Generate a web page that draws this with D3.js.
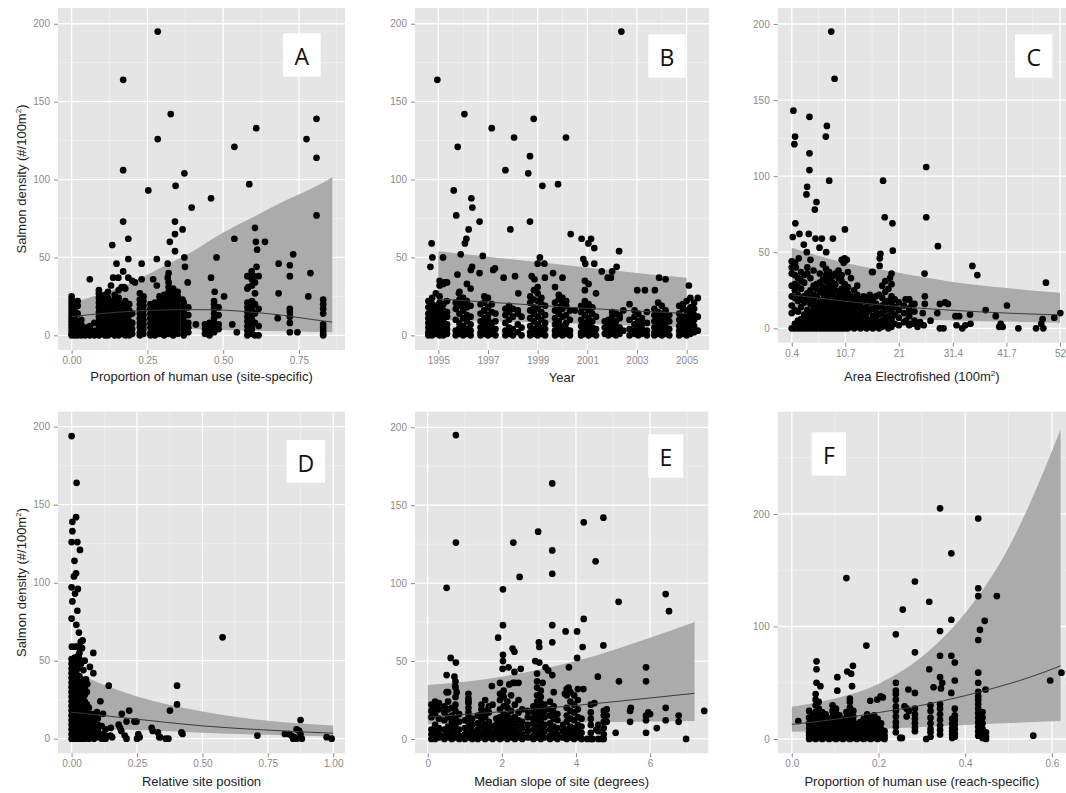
<!DOCTYPE html>
<html>
<head>
<meta charset="utf-8">
<script src="https://cdn.jsdelivr.net/npm/d3@7"></script>
<style>
body { margin: 0; background: #fff; }
svg { display: block; }
</style>
</head>
<body>
<div id="draw"></div>
<script>
// ---------- data ----------
// each panel: scattered points [x, y], stacked columns [x, [y...]], and the fitted curve + band

// A: proportion of human use (site-specific)
var aPoints = [[0.284,195],[0.17,164],[0.327,142],[0.284,126],[0.17,106],[0.372,104],[0.253,93],[0.343,96],[0.396,82],[0.46,88],[0.537,121],[0.586,97],[0.609,133],[0.775,126],[0.808,139],[0.808,114],[0.808,77],[0.17,73],[0.341,73],[0.341,65],[0.366,68],[0.324,60],[0.134,58],[0.187,62],[0.537,62],[0.608,60],[0.638,60],[0.605,69],[0.612,55],[0.341,54],[0.281,49],[0.187,49],[0.478,50],[0.148,46],[0.231,46],[0.17,41],[0.731,52],[0.683,46],[0.72,45],[0.72,38],[0.788,40],[0.372,50],[0.374,44],[0.317,46],[0.137,37],[0.154,37],[0.06,36],[0.187,37],[0.231,36],[0.209,34],[0.281,32],[0.317,37],[0.383,34],[0.269,36],[0.46,37],[0.683,27],[0.781,25],[0.173,31],[0.594,41],[0.61,44],[0.6,38],[0.583,31],[0.472,28],[0.503,25],[0.366,23]];
var aStacks = [[0.000,[0,1,3,5,7,9,11,13,15,17,19,21,23,25]],[0.010,[0,2,4,6,8,12,16,20]],[0.020,[0,1,3,6,9,14,19,22]],[0.032,[0,2,4,7,10]],[0.045,[0,1,3,5]],[0.060,[0,2,4,6]],[0.075,[0,1,3,8]],[0.090,[0,3,6,9,12,15,18,21,24,27,29]],[0.100,[1,4,7,10,13,16,19,22,25]],[0.110,[0,2,5,8,11,14,17,20,23,26]],[0.120,[0,3,6,9,12,15,18,21,24,28]],[0.130,[1,4,7,10,13,16,19,22,32]],[0.142,[0,2,5,8,11,14,17,20,23,26]],[0.155,[0,3,6,9,12,15,18,21,24,29]],[0.165,[1,4,7,11,14,17,20,31]],[0.177,[0,2,5,8,12,16,19,22,30]],[0.190,[0,3,6,9,13,16,20]],[0.200,[1,4,8,14,35]],[0.225,[0,2,5,8,11,14,17,20,23,27]],[0.237,[1,4,7,10,13,16,19,22,25]],[0.260,[0,2,5,8,11,14,17,20]],[0.275,[0,3,6,9,12,15,18,21]],[0.290,[1,4,7,10,13,16,19,22,25]],[0.305,[0,2,5,8,11,14,17,20,23,26]],[0.320,[1,4,7,10,13,16,19,22,25,28,31,34,40]],[0.335,[0,3,6,9,12,15,18,21,24,27,30]],[0.350,[1,4,7,10,13,16,19,22,25,28]],[0.370,[0,3,6,9,12,15,18,21]],[0.385,[2,5,8,13,18]],[0.410,[7]],[0.440,[1,4,7]],[0.455,[0,2,5,8]],[0.470,[2,5,8,11,14,17,20,22]],[0.485,[4,7,13,18]],[0.530,[7]],[0.545,[2]],[0.580,[0,3,6,9,12,15,18,21,30,38]],[0.595,[1,4,7,10,13,16,19,22,32,36]],[0.605,[0,8,14,20,27,34]],[0.617,[0,6,17,38]],[0.680,[11]],[0.720,[2,8,12,15,17]],[0.745,[2]],[0.830,[0,1,3,5,7,14,17,20,23]]];
var aCurveX = [0, 0.1, 0.2, 0.3, 0.4, 0.5, 0.6, 0.7, 0.8, 0.86];
var aFit    = [12, 14, 15.5, 16.3, 16.5, 16.2, 14.8, 12.8, 10, 8.5];
var aLow    = [6, 5.5, 5, 4.5, 4, 3.5, 3, 2.6, 2.2, 2];
var aHigh   = [20.5, 27, 34, 44, 54, 66, 76, 86, 95, 101.5];

// B: year
var bPoints = [[1994.96,164],[2002.37,195],[1996.05,142],[1997.15,133],[1998.05,127],[1998.84,139],[2000.14,127],[1995.78,121],[1998.69,115],[1997.7,106],[1998.62,104],[1995.62,93],[1999.19,96],[1999.82,97],[1996.33,88],[1996.37,82],[1995.72,77],[1996.66,73],[1998.69,73],[1996.22,68],[1997.9,68],[2000.33,65],[1996.13,62],[1996.07,59],[1994.73,59],[1994.76,50],[1994.68,44],[1995.19,50],[1995.9,52],[1996.79,51],[1999.09,50],[2000.77,62],[2001.15,62],[2001.04,59],[2001.28,56],[2002.28,54],[2000.84,49],[2000.92,46],[2001.28,46],[1999.0,46],[1999.27,46],[2001.58,41],[2001.82,37],[2001.95,37],[2002.18,44],[2002.0,41],[2003.89,37],[2004.15,36],[1996.36,44],[1996.31,42],[1996.66,40],[1997.28,43],[1997.21,42],[1997.63,37],[1998.09,38],[1998.76,38],[1998.87,36],[1999.29,37],[1999.62,40],[2000.0,37],[1995.77,39],[1995.83,27],[1999.7,31],[1995.13,33],[1995.26,34],[2003.01,29],[2003.32,29],[2003.72,29],[2005.09,32],[1998.22,27]];
var bStacks = [[1994.6,[0,2,5,8,11,14,18,22]],[1994.75,[0,1,4,7,10,13,16,20,24]],[1994.9,[1,3,6,9,12,15,19,27]],[1995.05,[0,2,5,8,11,14,17,21,25,32,35]],[1995.2,[0,3,6,10,13,16,20,33]],[1995.35,[1,4,7,12,15,22,34]],[1995.7,[0,3,10,17,21]],[1995.85,[1,5,8,14,19,23,28]],[1996.0,[0,2,6,11,16,20,24]],[1996.15,[1,4,9,13,18,22,33]],[1996.3,[0,3,7,12,19,30]],[1996.7,[0,2,5,9,14,20]],[1996.85,[1,4,7,11,16,21,25]],[1997.0,[0,3,6,10,13,18,24]],[1997.15,[1,5,8,15,20]],[1997.3,[0,4,9,14]],[1997.7,[0,3,8,13,17]],[1997.85,[1,5,10,15,19]],[1998.0,[0,4,12,17]],[1998.2,[2,7,14,16]],[1998.35,[0,5,12]],[1998.7,[0,2,6,11,16,21,25]],[1998.85,[1,4,9,14,18,23,29]],[1999.0,[0,3,7,12,17,22,27,31]],[1999.15,[1,5,10,15,20,24]],[1999.3,[0,4,8,13,19]],[1999.7,[0,3,7,11,16,21]],[1999.85,[1,5,9,14,18,23,26]],[2000.0,[0,2,6,12,17,20,24]],[2000.15,[1,4,8,13,19,22]],[2000.3,[0,3,10,16]],[2000.5,[16]],[2000.75,[0,2,6,10,15,19]],[2000.9,[1,4,8,13,18,22,29,35]],[2001.05,[0,3,7,11,16,20,33]],[2001.2,[1,5,9,14,18]],[2001.35,[0,4,12,27]],[2001.7,[1,5,9]],[2001.85,[0,3,7,10]],[2002.0,[1,4,8,12,15]],[2002.15,[0,3,6,9,14]],[2002.3,[1,5,11,13]],[2002.45,[3,16]],[2002.7,[0,4,10,20]],[2002.9,[1,3,7,12,16]],[2003.05,[0,2,5,9,14]],[2003.2,[1,4,7,11]],[2003.4,[0,3,8,15]],[2003.7,[0,2,5,9,13,17]],[2003.85,[1,4,7,11,15,21]],[2004.0,[0,3,6,10,14,19]],[2004.15,[1,5,8,12,16]],[2004.3,[0,4,9,13]],[2004.7,[0,3,6,10,14,19]],[2004.85,[1,4,8,12,17,20]],[2005.0,[0,2,5,9,13,16,22]],[2005.15,[1,4,7,11,15,18,24]],[2005.3,[2,6,10,13,17,21]],[2005.45,[3,12,24]]];
var bCurveX = [1995, 1997, 1999, 2001, 2003, 2005];
var bFit    = [23.3, 21.3, 19.3, 17.3, 15.6, 14.1];
var bLow    = [10, 9.2, 8.4, 7.3, 6.2, 5.2];
var bHigh   = [54, 50.5, 47, 43.5, 40, 37];

// C: area electrofished
var cPoints = [[8.0,195],[8.64,164],[0.72,143],[3.81,139],[1.04,126],[0.91,121],[7.16,133],[6.96,126],[3.81,115],[3.81,104],[7.61,97],[17.97,97],[26.27,106],[26.27,73],[3.36,93],[3.23,88],[5.16,83],[4.84,78],[1.11,69],[18.29,73],[19.77,69],[0.59,60],[1.88,62],[3.68,62],[4.97,59],[6.19,59],[8.32,59],[10.63,65],[5.74,53],[7.03,50],[2.72,55],[3.3,50],[4.0,45],[1.75,46],[17.46,49],[17.33,46],[19.83,51],[28.52,54],[35.15,41],[36.1,35],[49.3,30],[25.95,36],[17.3,41],[19.6,36],[15.85,37],[19.3,33],[10.57,46],[11.0,45],[10.4,43],[1.04,43],[1.2,40],[52.07,10],[50.9,7],[48.66,6],[48.4,3],[47.4,0],[48.8,0],[44.0,0],[41.8,15],[40.6,3],[41.0,1],[40.3,1],[39.65,8],[37.7,12],[34.7,9],[34.8,3],[32.6,8],[31.9,8],[33.2,0],[33.8,2],[32.1,2],[30.45,16],[29.9,17],[28.9,16],[28.4,10],[28.9,0],[29.6,0],[27.1,5],[26.0,16],[26.0,21],[25.6,10],[25.1,4],[25.8,2],[23.5,16],[22.3,19],[23.0,10],[22.4,5],[23.3,3],[23.9,3],[24.6,1]];
var cStacks = [[0.4,[0,10,15,21,28,36,40,44]],[1.0,[0,3,12,20,25,29,35,41]],[1.6,[0,1,5,11,18,22,27,33]],[2.2,[0,2,6,14,20,26,31,37]],[2.8,[0,1,4,9,17,21,30,35]],[3.4,[0,2,5,8,12,19,23,36,40]],[4.0,[0,1,3,6,10,16,20,25,33]],[4.6,[0,2,4,8,13,18,22,28,38]],[5.2,[0,1,3,7,11,15,21,26,29]],[5.8,[0,2,5,9,14,17,24,30,36]],[6.4,[0,1,4,8,12,16,19,23,27,32,42]],[7.0,[0,2,5,7,10,14,18,22,26,31,35,39]],[7.6,[0,1,3,6,9,13,17,21,24,28,33,37]],[8.2,[0,2,4,8,11,15,19,23,27,30,34]],[8.8,[0,1,5,9,12,16,20,25,29,36]],[9.4,[0,3,6,10,13,17,21,24,33,38]],[10.0,[0,2,5,8,11,15,18,22,26,31,35,45]],[10.6,[0,1,4,7,10,14,17,20,24,29,44]],[11.2,[0,3,6,9,12,16,19,23,27,37]],[11.8,[1,4,7,11,14,18,21,33]],[12.4,[0,3,6,10,13,17,20,25]],[13.0,[1,5,8,12,16,22,28]],[13.6,[0,3,7,11,15,19]],[14.2,[1,4,9,13,18,21]],[14.8,[0,2,6,10,14,20]],[15.4,[1,5,12,17,22]],[16.0,[0,3,8,13,19,37]],[16.6,[1,6,11,16,21]],[17.2,[0,4,9,14,22]],[17.8,[1,5,10,15,20,28]],[18.4,[2,7,12,17,24,31]],[19.0,[0,4,8,13,18,26]],[19.6,[1,6,11,16,21,29]],[20.2,[3,9,14,19]],[21.0,[2,7,12,17]],[22.0,[4,10,15]],[23.0,[2,8,13,19]],[24.0,[5,11,16]]];
var cCurveX = [0.4, 10.7, 21, 31.4, 41.7, 52];
var cFit    = [22, 17.8, 14.3, 11.8, 10, 8.8];
var cLow    = [9.5, 7.8, 6.3, 5.2, 4.4, 3.7];
var cHigh   = [53, 43, 36.5, 30.5, 26.5, 23.4];

// D: relative site position
var dPoints = [[0.0,194],[0.019,164],[0.017,142],[0.003,139],[0.003,133],[0.0,126],[0.022,126],[0.032,121],[0.011,114],[0.017,106],[0.009,104],[0.024,96],[0.0,97],[0.013,93],[0.003,88],[0.022,82],[0.0,77],[0.018,73],[0.028,68],[0.042,63],[0.023,59],[0.001,59],[0.035,62],[0.03,55],[0.577,65],[0.083,55],[0.07,46],[0.083,42],[0.142,34],[0.403,34],[0.403,22],[0.376,18],[0.11,24],[0.097,17],[0.089,16],[0.12,16],[0.192,16],[0.22,18],[0.21,11],[0.24,11],[0.248,11],[0.18,9],[0.185,7],[0.19,5],[0.15,7],[0.148,2],[0.155,1],[0.1,5],[0.095,2],[0.112,1],[0.306,7],[0.31,5],[0.33,4],[0.335,1],[0.36,0],[0.42,4],[0.424,3],[0.37,0],[0.338,1],[0.25,0],[0.26,1],[0.255,3],[0.203,2],[0.21,0],[0.13,0],[0.71,2],[0.815,3],[0.83,3],[0.84,2],[0.85,1],[0.86,0],[0.847,0],[0.875,12],[0.86,6],[0.87,5],[0.875,3],[0.88,0],[0.975,1],[0.994,0],[0.055,38],[0.06,35],[0.05,33],[0.045,44],[0.05,50],[0.04,58],[0.028,52],[0.015,59],[0.033,48]];
var dStacks = [[0.000,[0,3,6,9,12,15,18,21,24,27,30,33,36,39,42,45,48,51]],[0.006,[1,4,7,10,13,16,19,22,25,28,31,34,37,40,43,46,50]],[0.012,[0,2,5,8,11,14,17,20,23,26,29,32,35,38,41,44,47,52]],[0.018,[1,3,6,9,12,15,18,21,24,27,30,33,36,39,42,49]],[0.024,[0,2,5,8,11,14,17,20,23,26,29,32,35,38,45,53]],[0.030,[1,4,7,10,13,16,19,22,25,28,31,35,40,50]],[0.036,[0,2,5,8,11,14,17,20,23,27,31,38,48]],[0.042,[1,3,6,9,12,15,18,22,26,30,36]],[0.050,[0,2,5,8,11,14,19,24,28]],[0.058,[1,4,7,10,13,17,22,30]],[0.066,[0,3,6,9,14,20]],[0.074,[1,4,8,12,16]],[0.085,[0,3,7,11,14]],[0.100,[1,5,9,13]],[0.115,[0,3,8]],[0.130,[2,6]]];
var dCurveX = [0, 0.25, 0.5, 0.75, 1];
var dFit    = [17, 12.5, 8.2, 5.5, 3.5];
var dLow    = [7, 5.5, 3.8, 2.5, 1.4];
var dHigh   = [43, 27, 17.5, 11.5, 8.5];

// E: median slope of site
var ePoints = [[0.76,195],[0.76,126],[0.51,97],[3.36,164],[2.98,133],[3.36,121],[3.36,106],[2.31,126],[2.48,104],[2.03,96],[4.21,139],[4.74,142],[4.53,114],[5.15,88],[6.42,93],[6.51,82],[4.21,77],[3.36,73],[2.03,73],[3.72,69],[4.03,69],[1.9,65],[3.0,62],[3.36,62],[3.01,59],[4.18,59],[4.74,60],[2.29,58],[2.34,56],[0.62,52],[0.76,49],[0.51,41],[0.72,40],[2.03,54],[2.03,50],[2.9,50],[3.01,49],[2.18,46],[2.02,45],[3.18,46],[3.25,44],[3.36,41],[3.81,46],[4.03,52],[4.59,40],[5.89,46],[5.89,37],[5.16,37],[2.34,43],[2.51,45],[2.45,36],[2.3,36],[2.2,35],[1.73,34],[0.74,34],[0.78,30],[0.51,30],[6.42,20],[6.42,12],[6.77,15],[6.77,11],[7.46,18],[6.97,0],[6.18,7],[5.89,4],[5.89,15],[5.95,17],[6.0,16],[5.89,12],[5.46,18],[5.48,20],[5.46,11],[5.07,4],[4.83,11],[4.83,15],[4.83,19],[4.5,23],[4.55,6],[4.3,0],[4.45,0],[4.7,0],[4.2,32],[3.8,33],[3.7,29],[3.1,36],[2.95,42],[1.1,24]];
var eStacks = [[0.10,[0,3,6,14,18,22]],[0.20,[0,2,5,9,16,20,24]],[0.30,[1,4,7,13,19,23]],[0.45,[0,2,6,12,17,21]],[0.55,[1,4,8,14,19,24,30]],[0.65,[0,3,7,11,15,20]],[0.75,[1,5,9,13,18,22,27,33,37]],[0.85,[0,2,6,11,16]],[1.00,[0,3,7,12]],[1.10,[1,4,8,11,14,17,20,23,26,29]],[1.20,[0,2,5,9,13]],[1.35,[0,3,6,10,15]],[1.45,[1,4,8,12,16,19,22]],[1.55,[0,2,5,9,14,18,25]],[1.65,[1,3,7,11,17,21]],[1.75,[0,4,8,22]],[1.85,[1,5,9,13]],[1.95,[0,2,6,10,14,19,25,29,36]],[2.05,[1,4,8,12,16,21,27,31]],[2.15,[0,3,7,11,15,20,24]],[2.25,[1,5,9,13,18,28]],[2.35,[0,2,6,10,14,22,36]],[2.45,[1,4,8,12,17,25]],[2.55,[0,3,7,11,19]],[2.70,[1,5,9,14,18]],[2.85,[0,2,6,10,13,17,21]],[2.95,[1,4,8,12,16,20,24,28,33,37]],[3.05,[0,3,7,11,15,19,23,27,31]],[3.15,[1,5,9,14,18,22]],[3.30,[0,2,6,10,15,19,24]],[3.40,[1,4,8,13,17,21,30]],[3.50,[0,3,7,12,16]],[3.65,[1,5,9]],[3.75,[0,2,6,11,15,20,28,32]],[3.85,[1,4,8,13,18,24,30]],[3.95,[0,3,7,12,17,22,28]],[4.05,[1,5,9,14,19,25,32]],[4.15,[0,4,8,13]],[4.40,[0,4,9,13,17,22]],[4.60,[0,5,9]],[4.75,[0,3,7,11,15,18]]];
var eCurveX = [0, 2, 4, 6, 7.2];
var eFit    = [14, 17.5, 21.5, 26.3, 29.3];
var eLow    = [9.5, 10, 10.6, 11.2, 11.5];
var eHigh   = [34.6, 40, 50, 65, 75];

// F: proportion of human use (reach-specific)
var fPoints = [[0.342,205],[0.43,196],[0.368,165],[0.126,143],[0.284,140],[0.43,134],[0.43,127],[0.473,127],[0.317,122],[0.256,115],[0.368,106],[0.445,105],[0.434,97],[0.342,96],[0.24,93],[0.43,88],[0.172,83],[0.284,77],[0.342,74],[0.368,74],[0.376,68],[0.057,69],[0.057,62],[0.141,65],[0.137,58],[0.128,60],[0.105,55],[0.317,62],[0.43,59],[0.622,59],[0.596,52],[0.376,52],[0.24,50],[0.342,55],[0.347,50],[0.057,50],[0.066,47],[0.139,47],[0.43,50],[0.447,44],[0.344,45],[0.105,43],[0.24,43],[0.269,44],[0.284,41],[0.327,46],[0.368,41],[0.43,42],[0.181,34],[0.197,35],[0.205,38],[0.21,37],[0.557,3],[0.015,16],[0.254,1],[0.27,25],[0.26,29]];
var fStacks = [[0.040,[0,3,6,10,14,19,25]],[0.048,[1,4,8,12,17,22]],[0.055,[0,2,5,9,13,18,24,30,35,40]],[0.062,[1,4,7,11,16,21,27,33]],[0.070,[0,3,6,10,14,19,24]],[0.078,[1,4,8,12,17,22]],[0.086,[0,2,5,9,13,18]],[0.094,[1,4,7,11,15,20,25,30]],[0.102,[0,3,6,10,14,18,23,27]],[0.110,[1,4,8,12,16,21]],[0.118,[0,2,5,9,13,17]],[0.126,[1,4,7,11,15,19,24]],[0.134,[0,3,6,10,14,18,22,28,33,36]],[0.142,[1,4,8,12,16,20,25]],[0.150,[0,2,5,9,13]],[0.158,[1,4,7,11,15]],[0.166,[0,3,6,10,14,18]],[0.174,[1,4,8,12,17,22]],[0.182,[0,2,5,9,14,19]],[0.190,[1,4,7,11,16,21]],[0.198,[0,3,6,10,13,18]],[0.206,[1,5,9,14]],[0.214,[0,3,7]],[0.240,[6,11,15,20,25,29,35,40]],[0.250,[1]],[0.265,[20,27]],[0.284,[7,10,14,18,22,27]],[0.310,[0]],[0.320,[2,6,9,14,19,25,30]],[0.342,[4,8,12,17,22,27,31]],[0.370,[1,4,7,10,14,18]],[0.376,[2,5,9,13,17,21,27]],[0.430,[3,7,11,15,19,23,27,31,35,38]],[0.440,[1,5,9,14,19,24]],[0.448,[0,2,6]]];
var fCurveX = [0, 0.1, 0.2, 0.3, 0.4, 0.45, 0.5, 0.55, 0.62];
var fFit    = [13, 17.5, 23.5, 30, 38.5, 43.5, 49, 55, 65];
var fLow    = [6.5, 7.6, 8.8, 10.6, 12.5, 13.3, 14.2, 15, 16];
var fHigh   = [28.7, 36, 49, 73, 112, 138, 170, 210, 275];

// axis ticks
var yTicks = [0, 50, 100, 150, 200];
var yTicksF = [0, 100, 200];
var aTicks = [0, 0.25, 0.5, 0.75], aLabels = ['0.00', '0.25', '0.50', '0.75'];
var bTicks = [1995, 1997, 1999, 2001, 2003, 2005];
var cTicks = [0.4, 10.7, 21, 31.4, 41.7, 52];
var dTicks = [0, 0.25, 0.5, 0.75, 1], dLabels = ['0.00', '0.25', '0.50', '0.75', '1.00'];
var eTicks = [0, 2, 4, 6];
var fTicks = [0, 0.2, 0.4, 0.6], fLabels = ['0.0', '0.2', '0.4', '0.6'];

// ---------- layout ----------
var panels = [
	{ id: 'A', pts: aPoints, stacks: aStacks, cx: aCurveX, fit: aFit, lo: aLow, hi: aHigh,
		left: 58, right: 345, top: 8, bottom: 350, xDom: [-0.045, 0.902], yDom: [-9.4, 210.1],
		xTicks: aTicks, xLabels: aLabels, yTicks: yTicks, title: ['Proportion of human use (site-specific)'], titleY: 381,
		yTitle: true, box: [283, 33.3, 37.7, 43.4] },
	{ id: 'B', pts: bPoints, stacks: bStacks, cx: bCurveX, fit: bFit, lo: bLow, hi: bHigh,
		left: 415, right: 709, top: 8, bottom: 350, xDom: [1994.06, 2005.9], yDom: [-9.4, 210.1],
		xTicks: bTicks, xLabels: bTicks.map(String), yTicks: yTicks, title: ['Year'], titleY: 382,
		yTitle: false, box: [648.3, 34.3, 37.4, 43.4] },
	{ id: 'C', pts: cPoints, stacks: cStacks, cx: cCurveX, fit: cFit, lo: cLow, hi: cHigh,
		left: 777.7, right: 1066, top: 8, bottom: 342.7, xDom: [-2.3, 53.16], yDom: [-9.46, 210.5],
		xTicks: cTicks, xLabels: cTicks.map(String), yTicks: yTicks, title: ['Area Electrofished (100m', '2', ')'], titleY: 381,
		yTitle: false, box: [1015, 34.3, 37.3, 43.4] },
	{ id: 'D', pts: dPoints, stacks: dStacks, cx: dCurveX, fit: dFit, lo: dLow, hi: dHigh,
		left: 58, right: 345, top: 411.7, bottom: 753.3, xDom: [-0.052, 1.045], yDom: [-9.36, 209.6],
		xTicks: dTicks, xLabels: dLabels, yTicks: yTicks, title: ['Relative site position'], titleY: 786,
		yTitle: true, box: [286.7, 440, 38.3, 42.7] },
	{ id: 'E', pts: ePoints, stacks: eStacks, cx: eCurveX, fit: eFit, lo: eLow, hi: eHigh,
		left: 415, right: 708.3, top: 411.7, bottom: 753.3, xDom: [-0.343, 7.57], yDom: [-9.2, 210],
		xTicks: eTicks, xLabels: eTicks.map(String), yTicks: yTicks, title: ['Median slope of site (degrees)'], titleY: 786,
		yTitle: false, box: [648.3, 434.3, 35, 43.4] },
	{ id: 'F', pts: fPoints, stacks: fStacks, cx: fCurveX, fit: fFit, lo: fLow, hi: fHigh,
		left: 777.7, right: 1066, top: 411.7, bottom: 753.3, xDom: [-0.0325, 0.6325], yDom: [-12.7, 290.9],
		xTicks: fTicks, xLabels: fLabels, yTicks: yTicksF, title: ['Proportion of human use (reach-specific)'], titleY: 786,
		yTitle: false, box: [811.7, 432.3, 34.3, 43.4] }
];

var svg = d3.select('#draw').append('svg')
	.attr('width', 1066)
	.attr('height', 793)
	.style('font-family', '"Liberation Sans", Arial, sans-serif');

// minor breaks half way between majors, kept inside the domain
function minors(ticks, dom) {
	var step = ticks[1] - ticks[0], out = [];
	for (var i = -1; i < ticks.length; i++) {
		var v = ticks[0] + (i + 0.5) * step;
		if (v > dom[0] && v < dom[1]) out.push(v);
	}
	return out;
}

panels.forEach(function (p) {
	var x = d3.scaleLinear().domain(p.xDom).range([p.left, p.right]);
	var y = d3.scaleLinear().domain(p.yDom).range([p.bottom, p.top]);
	var g = svg.append('g');

	svg.append('clipPath').attr('id', 'clip' + p.id)
		.append('rect').attr('x', p.left).attr('y', p.top)
		.attr('width', p.right - p.left).attr('height', p.bottom - p.top);

	g.append('rect').attr('x', p.left).attr('y', p.top)
		.attr('width', p.right - p.left).attr('height', p.bottom - p.top)
		.style('fill', '#e5e5e5');

	var grid = g.append('g');
	minors(p.xTicks, p.xDom).forEach(function (v) {
		grid.append('line').attr('x1', x(v)).attr('x2', x(v)).attr('y1', p.top).attr('y2', p.bottom)
			.style('stroke', '#f2f2f2').style('stroke-width', 0.7);
	});
	minors(p.yTicks, p.yDom).forEach(function (v) {
		grid.append('line').attr('y1', y(v)).attr('y2', y(v)).attr('x1', p.left).attr('x2', p.right)
			.style('stroke', '#f2f2f2').style('stroke-width', 0.7);
	});
	p.xTicks.forEach(function (v) {
		grid.append('line').attr('x1', x(v)).attr('x2', x(v)).attr('y1', p.top).attr('y2', p.bottom)
			.style('stroke', '#fff').style('stroke-width', 1.3);
	});
	p.yTicks.forEach(function (v) {
		grid.append('line').attr('y1', y(v)).attr('y2', y(v)).attr('x1', p.left).attr('x2', p.right)
			.style('stroke', '#fff').style('stroke-width', 1.3);
	});

	var band = p.cx.map(function (v, i) { return [v, p.lo[i], p.fit[i], p.hi[i]]; });
	var plot = g.append('g').attr('clip-path', 'url(#clip' + p.id + ')');

	plot.append('path').datum(band)
		.attr('d', d3.area().curve(d3.curveMonotoneX)
			.x(function (d) { return x(d[0]); })
			.y0(function (d) { return y(d[1]); })
			.y1(function (d) { return y(d[3]); }))
		.style('fill', '#ababab');

	var pts = p.pts.slice();
	p.stacks.forEach(function (s) {
		s[1].forEach(function (v) { pts.push([s[0], v]); });
	});
	plot.selectAll('circle.pt').data(pts).enter().append('circle')
		.attr('class', 'pt')
		.attr('cx', function (d) { return x(d[0]); })
		.attr('cy', function (d) { return y(d[1]); })
		.attr('r', 3.35)
		.style('fill', '#000');

	plot.append('path').datum(band)
		.attr('d', d3.line().curve(d3.curveMonotoneX)
			.x(function (d) { return x(d[0]); })
			.y(function (d) { return y(d[2]); }))
		.style('fill', 'none').style('stroke', '#3a3a3a').style('stroke-width', 1);

	// axes
	var xa = g.append('g').attr('transform', 'translate(0,' + p.bottom + ')')
		.call(d3.axisBottom(x).tickValues(p.xTicks)
			.tickFormat(function (d, i) { return p.xLabels[i]; })
			.tickSize(4).tickPadding(3));
	var ya = g.append('g').attr('transform', 'translate(' + p.left + ',0)')
		.call(d3.axisLeft(y).tickValues(p.yTicks).tickSize(4).tickPadding(4));
	[xa, ya].forEach(function (a) {
		a.select('.domain').remove();
		a.selectAll('line').style('stroke', '#8a8a8a');
		a.selectAll('text').style('fill', '#8a8a8a').style('font-size', '10px')
			.style('font-family', '"Liberation Sans", Arial, sans-serif');
	});

	// x title
	var t = g.append('text').attr('x', (p.left + p.right) / 2).attr('y', p.titleY)
		.attr('text-anchor', 'middle').style('font-size', '13px').style('fill', '#222');
	t.append('tspan').text(p.title[0]);
	if (p.title.length > 1) {
		t.append('tspan').attr('dy', -5).style('font-size', '8px').text(p.title[1]);
		t.append('tspan').attr('dy', 5).text(p.title[2]);
	}

	// y title
	if (p.yTitle) {
		var cy = (p.top + p.bottom) / 2;
		var yt = g.append('text').attr('transform', 'translate(26,' + cy + ') rotate(-90)')
			.attr('text-anchor', 'middle').style('font-size', '13px').style('fill', '#222');
		yt.append('tspan').text('Salmon density (#/100m');
		yt.append('tspan').attr('dy', -5).style('font-size', '8px').text('2');
		yt.append('tspan').attr('dy', 5).text(')');
	}

	// panel letter
	g.append('rect').attr('x', p.box[0]).attr('y', p.box[1])
		.attr('width', p.box[2]).attr('height', p.box[3]).style('fill', '#fff');
	g.append('text').attr('x', p.box[0] + p.box[2] / 2).attr('y', p.box[1] + 31.5)
		.attr('text-anchor', 'middle')
		.style('font-family', '"Open Sans", "Liberation Sans", sans-serif')
		.style('font-size', '23px').style('fill', '#111')
		.text(p.id);
});
</script>
</body>
</html>
